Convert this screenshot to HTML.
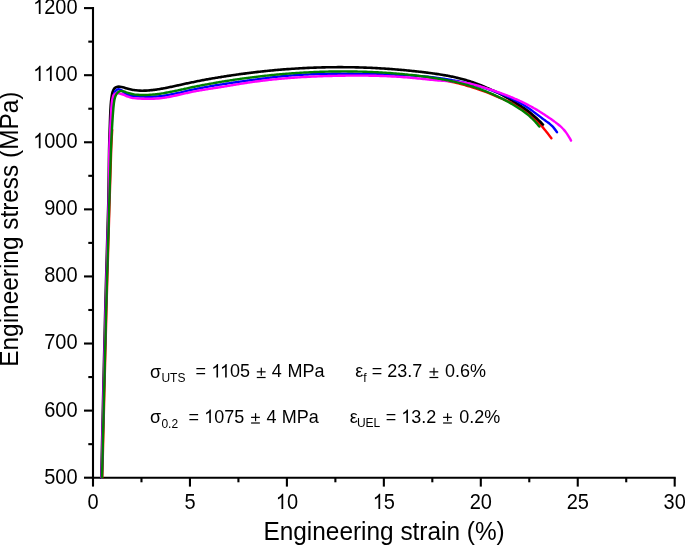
<!DOCTYPE html>
<html><head><meta charset="utf-8"><style>
html,body{margin:0;padding:0;background:#fff;}
body{width:685px;height:545px;overflow:hidden;}
svg{display:block;will-change:transform;}
text{font-family:"Liberation Sans",sans-serif;fill:#000;font-kerning:none;}
</style></head><body>
<svg width="685" height="545" viewBox="0 0 685 545">
<rect width="685" height="545" fill="#fff"/>
<g stroke="#000" stroke-width="2.1" stroke-linecap="butt">
<line x1="93" y1="7" x2="93" y2="478.75"/>
<line x1="91.95" y1="477.7" x2="675.75" y2="477.7"/>
<line x1="84" y1="477.70" x2="93" y2="477.70"/><line x1="84" y1="410.61" x2="93" y2="410.61"/><line x1="84" y1="343.53" x2="93" y2="343.53"/><line x1="84" y1="276.44" x2="93" y2="276.44"/><line x1="84" y1="209.36" x2="93" y2="209.36"/><line x1="84" y1="142.27" x2="93" y2="142.27"/><line x1="84" y1="75.19" x2="93" y2="75.19"/><line x1="84" y1="8.10" x2="93" y2="8.10"/><line x1="88.3" y1="444.16" x2="93" y2="444.16"/><line x1="88.3" y1="377.07" x2="93" y2="377.07"/><line x1="88.3" y1="309.99" x2="93" y2="309.99"/><line x1="88.3" y1="242.90" x2="93" y2="242.90"/><line x1="88.3" y1="175.81" x2="93" y2="175.81"/><line x1="88.3" y1="108.73" x2="93" y2="108.73"/><line x1="88.3" y1="41.64" x2="93" y2="41.64"/><line x1="93.00" y1="477.7" x2="93.00" y2="486.6"/><line x1="189.95" y1="477.7" x2="189.95" y2="486.6"/><line x1="286.90" y1="477.7" x2="286.90" y2="486.6"/><line x1="383.85" y1="477.7" x2="383.85" y2="486.6"/><line x1="480.80" y1="477.7" x2="480.80" y2="486.6"/><line x1="577.75" y1="477.7" x2="577.75" y2="486.6"/><line x1="674.70" y1="477.7" x2="674.70" y2="486.6"/><line x1="141.47" y1="477.7" x2="141.47" y2="482.3"/><line x1="238.43" y1="477.7" x2="238.43" y2="482.3"/><line x1="335.38" y1="477.7" x2="335.38" y2="482.3"/><line x1="432.32" y1="477.7" x2="432.32" y2="482.3"/><line x1="529.28" y1="477.7" x2="529.28" y2="482.3"/><line x1="626.23" y1="477.7" x2="626.23" y2="482.3"/>
</g>
<g fill="none" stroke-width="2.4" stroke-linecap="round" stroke-linejoin="round">
<path d="M102.30 477.40 C102.30 477.40 105.32 350.72 106.70 300.00 C107.73 261.92 108.81 227.61 109.65 200.00 C110.24 180.47 110.68 162.91 111.20 150.00 C111.53 141.83 112.20 130.00 112.20 130.00" stroke="#ff0000" stroke-width="2.4"/>
<path d="M427.00 76.86 C427.00 76.86 429.00 77.15 430.00 77.32 C431.00 77.48 432.00 77.67 433.00 77.86 C434.00 78.04 435.00 78.23 436.00 78.43 C437.00 78.62 438.00 78.82 439.00 79.03 C440.00 79.24 441.00 79.45 442.00 79.67 C443.00 79.88 444.00 80.11 445.00 80.34 C446.00 80.57 447.00 80.81 448.00 81.04 C449.00 81.28 450.00 81.52 451.00 81.76 C452.00 81.99 453.00 82.21 454.00 82.44 C455.00 82.68 456.00 82.92 457.00 83.16 C458.00 83.40 459.00 83.65 460.00 83.91 C461.00 84.16 462.00 84.42 463.00 84.68 C464.00 84.95 464.93 85.18 466.00 85.49 C467.24 85.84 468.25 86.15 470.00 86.70 C473.41 87.77 480.04 89.75 485.00 91.60 C490.04 93.48 495.01 95.77 500.00 97.90 C505.01 100.04 510.12 101.72 515.00 104.40 C520.14 107.23 525.63 111.06 530.00 114.60 C533.82 117.69 537.29 121.34 540.00 124.20 C542.01 126.32 543.26 127.87 545.00 130.00 C547.03 132.49 551.40 138.30 551.40 138.30" stroke="#ff0000" stroke-width="2.4"/>
<path d="M101.30 477.40 C101.30 477.40 104.16 350.71 105.50 300.00 C106.50 261.92 107.81 227.62 108.40 200.00 C108.82 180.48 108.82 162.91 109.10 150.00 C109.28 141.83 109.42 137.22 109.70 130.00 C110.03 121.45 110.28 108.97 111.00 102.00 C111.43 97.81 111.80 94.50 112.60 92.00 C113.12 90.38 113.60 89.07 114.50 88.20 C115.29 87.43 116.52 87.04 117.50 86.80 C118.35 86.59 119.08 86.62 120.00 86.70 C121.18 86.81 122.90 87.28 124.00 87.58 C124.79 87.80 125.33 88.05 126.00 88.26 C126.66 88.46 127.33 88.66 128.00 88.84 C128.66 89.02 129.33 89.18 130.00 89.33 C130.67 89.48 131.33 89.62 132.00 89.74 C132.67 89.87 133.33 89.98 134.00 90.07 C134.67 90.17 135.33 90.26 136.00 90.33 C136.67 90.40 137.33 90.46 138.00 90.51 C138.67 90.56 139.33 90.60 140.00 90.63 C140.67 90.66 141.33 90.67 142.00 90.68 C142.67 90.69 143.33 90.69 144.00 90.67 C144.67 90.66 145.33 90.64 146.00 90.61 C146.67 90.58 147.33 90.54 148.00 90.49 C148.67 90.45 149.33 90.39 150.00 90.33 C150.67 90.27 151.33 90.20 152.00 90.13 C152.67 90.05 153.33 89.97 154.00 89.88 C154.67 89.80 155.33 89.70 156.00 89.61 C156.67 89.51 157.33 89.41 158.00 89.30 C158.67 89.20 159.33 89.09 160.00 88.97 C160.67 88.86 161.33 88.75 162.00 88.63 C162.67 88.51 163.33 88.39 164.00 88.26 C164.67 88.14 165.33 88.01 166.00 87.88 C166.67 87.75 167.33 87.62 168.00 87.48 C168.67 87.35 169.33 87.21 170.00 87.08 C170.67 86.94 171.33 86.80 172.00 86.66 C172.67 86.52 173.33 86.38 174.00 86.23 C174.67 86.09 175.33 85.94 176.00 85.80 C176.67 85.65 177.33 85.51 178.00 85.36 C178.67 85.22 179.33 85.07 180.00 84.92 C180.67 84.77 181.33 84.63 182.00 84.48 C182.67 84.33 183.33 84.19 184.00 84.04 C184.67 83.89 185.33 83.75 186.00 83.60 C186.67 83.46 187.33 83.31 188.00 83.17 C188.67 83.02 189.33 82.88 190.00 82.74 C190.67 82.60 191.33 82.46 192.00 82.32 C192.67 82.18 193.33 82.04 194.00 81.91 C194.67 81.77 195.33 81.64 196.00 81.50 C196.67 81.37 197.33 81.24 198.00 81.10 C198.67 80.97 199.33 80.84 200.00 80.71 C200.67 80.58 201.33 80.46 202.00 80.33 C202.67 80.20 203.33 80.08 204.00 79.95 C204.67 79.83 205.33 79.71 206.00 79.58 C206.67 79.46 207.33 79.34 208.00 79.22 C208.67 79.10 209.33 78.98 210.00 78.86 C210.67 78.75 211.33 78.63 212.00 78.51 C212.67 78.40 213.33 78.28 214.00 78.17 C214.67 78.05 215.33 77.94 216.00 77.83 C216.67 77.72 217.33 77.60 218.00 77.49 C218.67 77.38 219.33 77.27 220.00 77.16 C220.67 77.06 221.33 76.95 222.00 76.84 C222.67 76.73 223.33 76.63 224.00 76.52 C224.67 76.42 225.33 76.31 226.00 76.21 C226.67 76.11 227.33 76.00 228.00 75.90 C228.67 75.80 229.33 75.70 230.00 75.60 C230.67 75.50 231.33 75.40 232.00 75.30 C232.67 75.20 233.33 75.10 234.00 75.01 C234.67 74.91 235.33 74.81 236.00 74.72 C236.67 74.62 237.33 74.53 238.00 74.44 C238.67 74.34 239.33 74.25 240.00 74.16 C240.67 74.07 241.33 73.98 242.00 73.89 C242.67 73.80 243.33 73.71 244.00 73.62 C244.67 73.53 245.33 73.44 246.00 73.36 C246.67 73.27 247.33 73.19 248.00 73.10 C248.67 73.02 249.33 72.93 250.00 72.85 C250.67 72.77 251.33 72.69 252.00 72.60 C252.67 72.52 253.33 72.44 254.00 72.36 C254.67 72.28 255.33 72.21 256.00 72.13 C256.67 72.05 257.33 71.97 258.00 71.90 C258.67 71.82 259.33 71.75 260.00 71.67 C260.67 71.60 261.33 71.53 262.00 71.45 C262.67 71.38 263.33 71.31 264.00 71.24 C264.67 71.17 265.33 71.10 266.00 71.03 C266.67 70.96 267.33 70.90 268.00 70.83 C268.67 70.76 269.33 70.70 270.00 70.63 C270.67 70.57 271.33 70.50 272.00 70.44 C272.67 70.37 273.33 70.31 274.00 70.25 C274.67 70.19 275.33 70.13 276.00 70.07 C276.67 70.01 277.33 69.95 278.00 69.89 C278.67 69.83 279.33 69.78 280.00 69.72 C280.67 69.67 281.33 69.61 282.00 69.56 C282.67 69.50 283.33 69.45 284.00 69.40 C284.67 69.34 285.33 69.29 286.00 69.24 C286.67 69.19 287.33 69.14 288.00 69.09 C288.67 69.04 289.33 68.99 290.00 68.95 C290.67 68.90 291.33 68.85 292.00 68.81 C292.67 68.76 293.33 68.72 294.00 68.68 C294.67 68.63 295.33 68.59 296.00 68.55 C296.67 68.51 297.33 68.47 298.00 68.43 C298.67 68.39 299.33 68.35 300.00 68.31 C300.67 68.27 301.33 68.24 302.00 68.20 C302.67 68.17 303.33 68.13 304.00 68.10 C304.67 68.06 305.33 68.03 306.00 68.00 C306.67 67.96 307.33 67.93 308.00 67.90 C308.67 67.87 309.33 67.84 310.00 67.81 C310.67 67.79 311.33 67.76 312.00 67.73 C312.67 67.70 313.33 67.68 314.00 67.65 C314.67 67.63 315.33 67.61 316.00 67.58 C316.67 67.56 317.33 67.54 318.00 67.52 C318.67 67.50 319.33 67.48 320.00 67.46 C320.67 67.44 321.33 67.42 322.00 67.40 C322.67 67.38 323.33 67.37 324.00 67.35 C324.67 67.34 325.33 67.32 326.00 67.31 C326.67 67.30 327.33 67.28 328.00 67.27 C328.67 67.26 329.33 67.25 330.00 67.24 C330.67 67.23 331.33 67.22 332.00 67.21 C332.67 67.21 333.33 67.20 334.00 67.19 C334.67 67.19 335.33 67.18 336.00 67.18 C336.67 67.17 337.33 67.17 338.00 67.17 C338.67 67.17 339.33 67.17 340.00 67.17 C340.67 67.17 341.33 67.17 342.00 67.17 C342.67 67.17 343.33 67.17 344.00 67.18 C344.67 67.18 345.33 67.19 346.00 67.19 C346.67 67.20 347.33 67.20 348.00 67.21 C348.67 67.22 349.33 67.23 350.00 67.24 C350.67 67.25 351.33 67.26 352.00 67.27 C352.67 67.28 353.33 67.29 354.00 67.31 C354.67 67.32 355.33 67.33 356.00 67.35 C356.67 67.36 357.33 67.38 358.00 67.40 C358.67 67.41 359.33 67.43 360.00 67.45 C360.67 67.47 361.33 67.49 362.00 67.51 C362.67 67.53 363.33 67.56 364.00 67.58 C364.67 67.60 365.33 67.63 366.00 67.65 C366.67 67.68 367.33 67.70 368.00 67.73 C368.67 67.76 369.33 67.79 370.00 67.82 C370.67 67.84 371.33 67.87 372.00 67.91 C372.67 67.94 373.33 67.97 374.00 68.00 C374.67 68.03 375.33 68.07 376.00 68.10 C376.67 68.14 377.33 68.17 378.00 68.21 C378.67 68.25 379.33 68.29 380.00 68.33 C380.67 68.36 381.33 68.40 382.00 68.44 C382.67 68.49 383.33 68.53 384.00 68.57 C384.67 68.61 385.33 68.66 386.00 68.70 C386.67 68.75 387.33 68.79 388.00 68.84 C388.67 68.89 389.33 68.93 390.00 68.98 C390.67 69.03 391.33 69.08 392.00 69.13 C392.67 69.18 393.33 69.23 394.00 69.28 C394.67 69.34 395.33 69.39 396.00 69.44 C396.67 69.50 397.33 69.55 398.00 69.61 C398.67 69.67 399.33 69.72 400.00 69.78 C400.67 69.84 401.33 69.90 402.00 69.96 C402.67 70.02 403.33 70.08 404.00 70.14 C404.67 70.20 405.33 70.26 406.00 70.33 C406.67 70.39 407.33 70.46 408.00 70.52 C408.67 70.59 409.33 70.65 410.00 70.72 C410.67 70.79 411.33 70.86 412.00 70.93 C412.67 70.99 413.33 71.06 414.00 71.14 C414.67 71.21 415.33 71.28 416.00 71.35 C416.67 71.42 417.33 71.50 418.00 71.57 C418.67 71.65 419.33 71.72 420.00 71.80 C420.67 71.88 421.33 71.95 422.00 72.03 C422.67 72.11 423.33 72.19 424.00 72.27 C424.67 72.35 425.33 72.43 426.00 72.51 C426.67 72.59 427.33 72.68 428.00 72.76 C428.67 72.84 429.33 72.93 430.00 73.02 C430.67 73.10 431.33 73.19 432.00 73.28 C432.67 73.37 433.33 73.46 434.00 73.55 C434.67 73.65 435.33 73.74 436.00 73.84 C436.67 73.93 437.33 74.03 438.00 74.13 C438.67 74.23 439.33 74.33 440.00 74.44 C440.67 74.54 441.33 74.65 442.00 74.76 C442.67 74.87 443.33 74.98 444.00 75.10 C444.67 75.21 445.33 75.33 446.00 75.45 C446.67 75.57 447.33 75.69 448.00 75.82 C448.67 75.94 449.33 76.07 450.00 76.20 C450.67 76.34 451.33 76.47 452.00 76.61 C452.67 76.75 453.33 76.89 454.00 77.04 C454.67 77.18 455.33 77.33 456.00 77.49 C456.67 77.64 457.33 77.80 458.00 77.96 C458.67 78.12 459.33 78.28 460.00 78.45 C460.67 78.62 461.33 78.79 462.00 78.97 C462.67 79.15 463.33 79.33 464.00 79.51 C464.67 79.70 465.33 79.89 466.00 80.08 C466.67 80.28 467.33 80.48 468.00 80.68 C468.67 80.89 469.33 81.10 470.00 81.31 C470.67 81.53 471.33 81.75 472.00 81.97 C472.67 82.20 473.33 82.43 474.00 82.66 C474.67 82.89 475.33 83.13 476.00 83.38 C476.67 83.62 477.33 83.87 478.00 84.12 C478.67 84.37 479.33 84.63 480.00 84.89 C480.67 85.16 481.33 85.42 482.00 85.69 C482.67 85.96 483.33 86.24 484.00 86.52 C484.67 86.80 485.33 87.08 486.00 87.37 C486.67 87.65 487.33 87.94 488.00 88.24 C488.67 88.53 489.33 88.83 490.00 89.14 C490.67 89.44 491.33 89.75 492.00 90.06 C492.67 90.37 493.33 90.68 494.00 91.00 C494.67 91.31 495.33 91.64 496.00 91.96 C496.67 92.28 497.33 92.61 498.00 92.94 C498.67 93.27 499.33 93.61 500.00 93.95 C500.67 94.28 501.33 94.62 502.00 94.97 C502.67 95.31 503.33 95.66 504.00 96.01 C504.67 96.36 505.33 96.72 506.00 97.08 C506.67 97.44 507.33 97.80 508.00 98.17 C508.67 98.54 509.33 98.91 510.00 99.29 C510.67 99.66 511.33 100.05 512.00 100.43 C512.67 100.82 513.33 101.22 514.00 101.61 C514.67 102.01 515.33 102.42 516.00 102.83 C516.67 103.24 517.33 103.65 518.00 104.08 C518.67 104.50 519.34 104.93 520.00 105.37 C520.67 105.81 521.34 106.25 522.00 106.70 C522.67 107.16 523.34 107.62 524.00 108.09 C524.67 108.56 525.34 109.04 526.00 109.53 C526.67 110.02 527.34 110.52 528.00 111.03 C528.67 111.54 529.34 112.06 530.00 112.59 C530.67 113.13 531.34 113.67 532.00 114.22 C532.67 114.78 533.34 115.35 534.00 115.93 C534.67 116.51 535.34 117.10 536.00 117.70 C536.67 118.31 537.34 118.93 538.00 119.57 C538.67 120.20 539.34 120.85 540.00 121.51 C540.67 122.18 541.45 122.98 542.00 123.55 C542.39 123.95 543.00 124.60 543.00 124.60" stroke="#000000" stroke-width="2.6"/>
<path d="M101.80 477.40 C101.80 477.40 104.75 350.72 106.10 300.00 C107.11 261.92 108.41 227.62 109.00 200.00 C109.42 180.48 109.35 162.91 109.70 150.00 C109.92 141.83 110.08 137.22 110.50 130.00 C110.99 121.45 111.77 108.35 112.60 102.00 C113.03 98.69 113.34 96.56 114.00 94.50 C114.49 92.95 114.95 91.48 115.80 90.60 C116.50 89.88 117.45 89.35 118.40 89.30 C119.49 89.24 121.03 90.00 122.00 90.62 C122.83 91.14 123.31 92.00 124.00 92.58 C124.65 93.12 125.32 93.59 126.00 93.99 C126.65 94.37 127.32 94.68 128.00 94.94 C128.66 95.20 129.33 95.39 130.00 95.55 C130.66 95.71 131.33 95.81 132.00 95.91 C132.66 96.00 133.33 96.06 134.00 96.12 C134.67 96.19 135.33 96.24 136.00 96.28 C136.67 96.33 137.33 96.37 138.00 96.41 C138.67 96.45 139.33 96.48 140.00 96.51 C140.67 96.55 141.33 96.57 142.00 96.60 C142.67 96.63 143.33 96.65 144.00 96.67 C144.67 96.68 145.33 96.70 146.00 96.71 C146.67 96.72 147.33 96.73 148.00 96.73 C148.67 96.73 149.33 96.73 150.00 96.72 C150.67 96.72 151.33 96.71 152.00 96.69 C152.67 96.67 153.33 96.65 154.00 96.62 C154.67 96.59 155.33 96.55 156.00 96.51 C156.67 96.47 157.33 96.42 158.00 96.37 C158.67 96.32 159.33 96.25 160.00 96.19 C160.67 96.12 161.33 96.04 162.00 95.96 C162.67 95.88 163.33 95.79 164.00 95.69 C164.67 95.60 165.33 95.49 166.00 95.39 C166.67 95.28 167.33 95.17 168.00 95.05 C168.67 94.93 169.33 94.81 170.00 94.68 C170.67 94.56 171.33 94.43 172.00 94.29 C172.67 94.16 173.33 94.02 174.00 93.88 C174.67 93.74 175.33 93.60 176.00 93.45 C176.67 93.30 177.33 93.16 178.00 93.01 C178.67 92.86 179.33 92.70 180.00 92.55 C180.67 92.40 181.33 92.24 182.00 92.09 C182.67 91.93 183.33 91.78 184.00 91.62 C184.67 91.47 185.33 91.31 186.00 91.16 C186.67 91.00 187.33 90.85 188.00 90.70 C188.67 90.54 189.33 90.39 190.00 90.24 C190.67 90.10 191.33 89.95 192.00 89.80 C192.67 89.66 193.33 89.51 194.00 89.37 C194.67 89.23 195.33 89.09 196.00 88.95 C196.67 88.82 197.33 88.68 198.00 88.54 C198.67 88.41 199.33 88.28 200.00 88.15 C200.67 88.01 201.33 87.89 202.00 87.76 C202.67 87.63 203.33 87.50 204.00 87.38 C204.67 87.25 205.33 87.13 206.00 87.01 C206.67 86.88 207.33 86.76 208.00 86.64 C208.67 86.53 209.33 86.41 210.00 86.29 C210.67 86.17 211.33 86.06 212.00 85.94 C212.67 85.83 213.33 85.72 214.00 85.60 C214.67 85.49 215.33 85.38 216.00 85.27 C216.67 85.16 217.33 85.05 218.00 84.95 C218.67 84.84 219.33 84.73 220.00 84.63 C220.67 84.52 221.33 84.42 222.00 84.31 C222.67 84.21 223.33 84.11 224.00 84.00 C224.67 83.90 225.33 83.80 226.00 83.70 C226.67 83.60 227.33 83.50 228.00 83.40 C228.67 83.30 229.33 83.20 230.00 83.11 C230.67 83.01 231.33 82.91 232.00 82.81 C232.67 82.72 233.33 82.62 234.00 82.53 C234.67 82.43 235.33 82.33 236.00 82.24 C236.67 82.14 237.33 82.05 238.00 81.96 C238.67 81.86 239.33 81.77 240.00 81.68 C240.67 81.58 241.33 81.49 242.00 81.40 C242.67 81.30 243.33 81.21 244.00 81.12 C244.67 81.03 245.33 80.93 246.00 80.84 C246.67 80.75 247.33 80.66 248.00 80.56 C248.67 80.47 249.33 80.38 250.00 80.29 C250.67 80.19 251.33 80.10 252.00 80.01 C252.67 79.92 253.33 79.83 254.00 79.73 C254.67 79.64 255.33 79.55 256.00 79.46 C256.67 79.37 257.33 79.27 258.00 79.18 C258.67 79.09 259.33 79.00 260.00 78.91 C260.67 78.82 261.33 78.73 262.00 78.64 C262.67 78.55 263.33 78.47 264.00 78.38 C264.67 78.29 265.33 78.20 266.00 78.12 C266.67 78.03 267.33 77.95 268.00 77.86 C268.67 77.78 269.33 77.69 270.00 77.61 C270.67 77.53 271.33 77.45 272.00 77.37 C272.67 77.29 273.33 77.21 274.00 77.13 C274.67 77.05 275.33 76.98 276.00 76.90 C276.67 76.83 277.33 76.75 278.00 76.68 C278.67 76.61 279.33 76.54 280.00 76.47 C280.67 76.40 281.33 76.33 282.00 76.27 C282.67 76.20 283.33 76.14 284.00 76.08 C284.67 76.01 285.33 75.95 286.00 75.89 C286.67 75.83 287.33 75.78 288.00 75.72 C288.67 75.66 289.33 75.61 290.00 75.55 C290.67 75.50 291.33 75.45 292.00 75.40 C292.67 75.35 293.33 75.30 294.00 75.25 C294.67 75.20 295.33 75.16 296.00 75.11 C296.67 75.06 297.33 75.02 298.00 74.98 C298.67 74.94 299.33 74.90 300.00 74.86 C300.67 74.82 301.33 74.78 302.00 74.74 C302.67 74.70 303.33 74.67 304.00 74.63 C304.67 74.60 305.33 74.56 306.00 74.53 C306.67 74.50 307.33 74.47 308.00 74.44 C308.67 74.41 309.33 74.38 310.00 74.35 C310.67 74.32 311.33 74.30 312.00 74.27 C312.67 74.25 313.33 74.22 314.00 74.20 C314.67 74.18 315.33 74.15 316.00 74.13 C316.67 74.11 317.33 74.09 318.00 74.07 C318.67 74.05 319.33 74.03 320.00 74.02 C320.67 74.00 321.33 73.98 322.00 73.97 C322.67 73.95 323.33 73.94 324.00 73.93 C324.67 73.91 325.33 73.90 326.00 73.89 C326.67 73.88 327.33 73.87 328.00 73.86 C328.67 73.85 329.33 73.84 330.00 73.83 C330.67 73.82 331.33 73.81 332.00 73.81 C332.67 73.80 333.33 73.80 334.00 73.79 C334.67 73.79 335.33 73.78 336.00 73.78 C336.67 73.77 337.33 73.77 338.00 73.77 C338.67 73.77 339.33 73.77 340.00 73.76 C340.67 73.76 341.33 73.76 342.00 73.76 C342.67 73.76 343.33 73.77 344.00 73.77 C344.67 73.77 345.33 73.77 346.00 73.77 C346.67 73.78 347.33 73.78 348.00 73.78 C348.67 73.79 349.33 73.79 350.00 73.80 C350.67 73.80 351.33 73.81 352.00 73.81 C352.67 73.82 353.33 73.82 354.00 73.83 C354.67 73.84 355.33 73.84 356.00 73.85 C356.67 73.86 357.33 73.87 358.00 73.88 C358.67 73.88 359.33 73.89 360.00 73.90 C360.67 73.91 361.33 73.92 362.00 73.93 C362.67 73.94 363.33 73.95 364.00 73.96 C364.67 73.97 365.33 73.98 366.00 73.99 C366.67 74.00 367.33 74.01 368.00 74.02 C368.67 74.03 369.33 74.05 370.00 74.06 C370.67 74.07 371.33 74.08 372.00 74.09 C372.67 74.10 373.33 74.12 374.00 74.13 C374.67 74.14 375.33 74.15 376.00 74.17 C376.67 74.18 377.33 74.19 378.00 74.21 C378.67 74.22 379.33 74.23 380.00 74.25 C380.67 74.26 381.33 74.28 382.00 74.29 C382.67 74.31 383.33 74.32 384.00 74.34 C384.67 74.36 385.33 74.37 386.00 74.39 C386.67 74.41 387.33 74.43 388.00 74.45 C388.67 74.47 389.33 74.48 390.00 74.50 C390.67 74.53 391.33 74.55 392.00 74.57 C392.67 74.59 393.33 74.61 394.00 74.64 C394.67 74.66 395.33 74.68 396.00 74.71 C396.67 74.73 397.33 74.76 398.00 74.79 C398.67 74.81 399.33 74.84 400.00 74.87 C400.67 74.90 401.33 74.93 402.00 74.96 C402.67 74.99 403.33 75.02 404.00 75.05 C404.67 75.09 405.33 75.12 406.00 75.16 C406.67 75.19 407.33 75.23 408.00 75.27 C408.67 75.30 409.33 75.34 410.00 75.38 C410.67 75.42 411.33 75.46 412.00 75.51 C412.67 75.55 413.33 75.59 414.00 75.64 C414.67 75.68 415.33 75.73 416.00 75.78 C416.67 75.83 417.33 75.88 418.00 75.93 C418.67 75.98 419.33 76.03 420.00 76.09 C420.67 76.14 421.33 76.20 422.00 76.25 C422.67 76.31 423.33 76.37 424.00 76.43 C424.67 76.49 425.33 76.55 426.00 76.62 C426.67 76.68 427.33 76.74 428.00 76.81 C428.67 76.88 429.33 76.95 430.00 77.02 C430.67 77.09 431.33 77.16 432.00 77.24 C432.67 77.31 433.33 77.39 434.00 77.47 C434.67 77.54 435.33 77.62 436.00 77.71 C436.67 77.79 437.33 77.87 438.00 77.96 C438.67 78.05 439.33 78.13 440.00 78.22 C440.67 78.31 441.33 78.41 442.00 78.50 C442.67 78.60 443.33 78.69 444.00 78.79 C444.67 78.89 445.33 78.99 446.00 79.09 C446.67 79.20 447.33 79.30 448.00 79.41 C448.67 79.52 449.33 79.63 450.00 79.74 C450.67 79.85 451.33 79.97 452.00 80.09 C452.67 80.20 453.33 80.32 454.00 80.45 C454.67 80.57 455.33 80.69 456.00 80.82 C456.67 80.95 457.33 81.08 458.00 81.21 C458.67 81.34 459.33 81.48 460.00 81.61 C460.67 81.75 461.33 81.89 462.00 82.03 C462.67 82.18 463.33 82.32 464.00 82.47 C464.67 82.62 465.33 82.77 466.00 82.92 C466.67 83.08 467.33 83.23 468.00 83.39 C468.67 83.55 469.33 83.72 470.00 83.88 C470.67 84.05 471.33 84.21 472.00 84.38 C472.67 84.56 473.33 84.73 474.00 84.91 C474.67 85.08 475.33 85.26 476.00 85.45 C476.67 85.63 477.33 85.82 478.00 86.01 C478.67 86.19 479.33 86.39 480.00 86.58 C480.67 86.78 481.33 86.98 482.00 87.18 C482.67 87.38 483.33 87.59 484.00 87.80 C484.67 88.00 485.33 88.22 486.00 88.43 C486.67 88.65 487.33 88.86 488.00 89.09 C488.67 89.31 489.33 89.53 490.00 89.76 C490.67 89.99 491.33 90.22 492.00 90.46 C492.67 90.70 493.33 90.93 494.00 91.18 C494.67 91.42 495.33 91.67 496.00 91.92 C496.67 92.17 497.33 92.42 498.00 92.68 C498.67 92.94 499.33 93.20 500.00 93.46 C500.67 93.73 501.33 93.99 502.00 94.27 C502.67 94.54 503.33 94.82 504.00 95.10 C504.67 95.38 505.33 95.66 506.00 95.95 C506.67 96.25 507.33 96.54 508.00 96.84 C508.67 97.14 509.33 97.45 510.00 97.76 C510.67 98.07 511.33 98.39 512.00 98.71 C512.67 99.04 513.33 99.37 514.00 99.70 C514.67 100.04 515.33 100.38 516.00 100.73 C516.67 101.08 517.33 101.44 518.00 101.80 C518.67 102.17 519.33 102.54 520.00 102.92 C520.67 103.30 521.34 103.68 522.00 104.08 C522.67 104.47 523.34 104.88 524.00 105.29 C524.67 105.70 525.34 106.12 526.00 106.55 C526.67 106.98 527.34 107.42 528.00 107.86 C528.67 108.31 529.34 108.77 530.00 109.23 C530.67 109.70 531.34 110.17 532.00 110.65 C532.67 111.14 533.33 111.63 534.00 112.12 C534.67 112.62 535.33 113.12 536.00 113.62 C536.67 114.13 537.33 114.63 538.00 115.14 C538.67 115.65 539.33 116.15 540.00 116.66 C540.67 117.16 541.33 117.67 542.00 118.17 C542.67 118.67 543.33 119.16 544.00 119.65 C544.67 120.14 545.33 120.62 546.00 121.10 C546.67 121.59 547.34 122.06 548.00 122.56 C548.67 123.07 549.34 123.59 550.00 124.14 C550.68 124.72 551.35 125.31 552.00 125.95 C552.68 126.62 553.35 127.34 554.00 128.10 C554.69 128.91 555.46 129.94 556.00 130.70 C556.40 131.26 557.00 132.20 557.00 132.20" stroke="#0000ff" stroke-width="2.4"/>
<path d="M101.60 477.40 C101.60 477.40 104.55 350.72 105.90 300.00 C106.91 261.92 108.26 227.62 108.80 200.00 C109.18 180.48 108.95 162.91 109.30 150.00 C109.52 141.83 109.79 137.34 110.20 130.00 C110.70 121.01 111.16 105.76 112.20 100.00 C112.63 97.60 112.85 96.24 113.70 95.00 C114.40 93.98 115.45 93.02 116.50 92.80 C117.55 92.58 118.80 93.38 120.00 93.70 C121.29 94.05 122.92 94.37 124.00 94.81 C124.80 95.14 125.33 95.57 126.00 95.90 C126.66 96.21 127.33 96.49 128.00 96.74 C128.66 96.98 129.33 97.19 130.00 97.38 C130.66 97.56 131.33 97.71 132.00 97.84 C132.66 97.97 133.33 98.07 134.00 98.16 C134.67 98.25 135.33 98.32 136.00 98.38 C136.67 98.43 137.33 98.47 138.00 98.51 C138.67 98.55 139.33 98.58 140.00 98.61 C140.67 98.64 141.33 98.66 142.00 98.68 C142.67 98.71 143.33 98.73 144.00 98.75 C144.67 98.76 145.33 98.78 146.00 98.79 C146.67 98.80 147.33 98.81 148.00 98.81 C148.67 98.82 149.33 98.82 150.00 98.81 C150.67 98.81 151.33 98.80 152.00 98.78 C152.67 98.76 153.33 98.74 154.00 98.72 C154.67 98.69 155.33 98.66 156.00 98.61 C156.67 98.57 157.33 98.53 158.00 98.47 C158.67 98.42 159.33 98.36 160.00 98.29 C160.67 98.22 161.33 98.14 162.00 98.06 C162.67 97.97 163.33 97.88 164.00 97.78 C164.67 97.68 165.33 97.58 166.00 97.47 C166.67 97.36 167.33 97.24 168.00 97.12 C168.67 97.00 169.33 96.87 170.00 96.74 C170.67 96.61 171.33 96.47 172.00 96.34 C172.67 96.20 173.33 96.06 174.00 95.91 C174.67 95.77 175.33 95.62 176.00 95.47 C176.67 95.32 177.33 95.17 178.00 95.02 C178.67 94.87 179.33 94.71 180.00 94.56 C180.67 94.40 181.33 94.25 182.00 94.09 C182.67 93.94 183.33 93.78 184.00 93.63 C184.67 93.48 185.33 93.32 186.00 93.17 C186.67 93.02 187.33 92.87 188.00 92.73 C188.67 92.58 189.33 92.44 190.00 92.30 C190.67 92.16 191.33 92.02 192.00 91.88 C192.67 91.75 193.33 91.62 194.00 91.49 C194.67 91.36 195.33 91.23 196.00 91.11 C196.67 90.99 197.33 90.86 198.00 90.74 C198.67 90.62 199.33 90.51 200.00 90.39 C200.67 90.28 201.33 90.16 202.00 90.05 C202.67 89.94 203.33 89.83 204.00 89.72 C204.67 89.61 205.33 89.50 206.00 89.39 C206.67 89.29 207.33 89.18 208.00 89.08 C208.67 88.97 209.33 88.87 210.00 88.76 C210.67 88.66 211.33 88.56 212.00 88.45 C212.67 88.35 213.33 88.25 214.00 88.14 C214.67 88.04 215.33 87.94 216.00 87.83 C216.67 87.73 217.33 87.63 218.00 87.52 C218.67 87.42 219.33 87.31 220.00 87.21 C220.67 87.10 221.33 87.00 222.00 86.89 C222.67 86.78 223.33 86.67 224.00 86.56 C224.67 86.45 225.33 86.35 226.00 86.24 C226.67 86.13 227.33 86.02 228.00 85.90 C228.67 85.79 229.33 85.68 230.00 85.57 C230.67 85.46 231.33 85.35 232.00 85.24 C232.67 85.13 233.33 85.02 234.00 84.91 C234.67 84.80 235.33 84.69 236.00 84.58 C236.67 84.47 237.33 84.36 238.00 84.25 C238.67 84.14 239.33 84.03 240.00 83.92 C240.67 83.81 241.33 83.70 242.00 83.60 C242.67 83.49 243.33 83.38 244.00 83.28 C244.67 83.17 245.33 83.07 246.00 82.96 C246.67 82.86 247.33 82.76 248.00 82.66 C248.67 82.56 249.33 82.46 250.00 82.36 C250.67 82.26 251.33 82.16 252.00 82.07 C252.67 81.97 253.33 81.88 254.00 81.79 C254.67 81.69 255.33 81.60 256.00 81.51 C256.67 81.42 257.33 81.33 258.00 81.25 C258.67 81.16 259.33 81.07 260.00 80.99 C260.67 80.90 261.33 80.82 262.00 80.74 C262.67 80.65 263.33 80.57 264.00 80.49 C264.67 80.41 265.33 80.33 266.00 80.26 C266.67 80.18 267.33 80.10 268.00 80.03 C268.67 79.95 269.33 79.88 270.00 79.81 C270.67 79.73 271.33 79.66 272.00 79.59 C272.67 79.52 273.33 79.45 274.00 79.39 C274.67 79.32 275.33 79.25 276.00 79.19 C276.67 79.12 277.33 79.06 278.00 78.99 C278.67 78.93 279.33 78.87 280.00 78.81 C280.67 78.75 281.33 78.69 282.00 78.63 C282.67 78.57 283.33 78.51 284.00 78.45 C284.67 78.40 285.33 78.34 286.00 78.29 C286.67 78.23 287.33 78.18 288.00 78.12 C288.67 78.07 289.33 78.02 290.00 77.97 C290.67 77.92 291.33 77.87 292.00 77.82 C292.67 77.77 293.33 77.73 294.00 77.68 C294.67 77.63 295.33 77.59 296.00 77.54 C296.67 77.50 297.33 77.45 298.00 77.41 C298.67 77.37 299.33 77.33 300.00 77.29 C300.67 77.24 301.33 77.20 302.00 77.16 C302.67 77.13 303.33 77.09 304.00 77.05 C304.67 77.01 305.33 76.98 306.00 76.94 C306.67 76.90 307.33 76.87 308.00 76.84 C308.67 76.80 309.33 76.77 310.00 76.74 C310.67 76.70 311.33 76.67 312.00 76.64 C312.67 76.61 313.33 76.58 314.00 76.55 C314.67 76.52 315.33 76.49 316.00 76.47 C316.67 76.44 317.33 76.41 318.00 76.39 C318.67 76.36 319.33 76.33 320.00 76.31 C320.67 76.28 321.33 76.26 322.00 76.24 C322.67 76.21 323.33 76.19 324.00 76.17 C324.67 76.15 325.33 76.13 326.00 76.11 C326.67 76.09 327.33 76.07 328.00 76.05 C328.67 76.03 329.33 76.01 330.00 75.99 C330.67 75.97 331.33 75.96 332.00 75.94 C332.67 75.92 333.33 75.91 334.00 75.89 C334.67 75.87 335.33 75.86 336.00 75.85 C336.67 75.83 337.33 75.82 338.00 75.80 C338.67 75.79 339.33 75.78 340.00 75.77 C340.67 75.75 341.33 75.74 342.00 75.73 C342.67 75.72 343.33 75.71 344.00 75.70 C344.67 75.69 345.33 75.68 346.00 75.67 C346.67 75.66 347.33 75.66 348.00 75.65 C348.67 75.64 349.33 75.64 350.00 75.63 C350.67 75.63 351.33 75.62 352.00 75.62 C352.67 75.61 353.33 75.61 354.00 75.61 C354.67 75.60 355.33 75.60 356.00 75.60 C356.67 75.60 357.33 75.60 358.00 75.60 C358.67 75.60 359.33 75.60 360.00 75.60 C360.67 75.61 361.33 75.61 362.00 75.61 C362.67 75.62 363.33 75.62 364.00 75.63 C364.67 75.63 365.33 75.64 366.00 75.64 C366.67 75.65 367.33 75.66 368.00 75.67 C368.67 75.68 369.33 75.69 370.00 75.70 C370.67 75.71 371.33 75.72 372.00 75.73 C372.67 75.75 373.33 75.76 374.00 75.78 C374.67 75.79 375.33 75.81 376.00 75.82 C376.67 75.84 377.33 75.86 378.00 75.88 C378.67 75.90 379.33 75.92 380.00 75.94 C380.67 75.96 381.33 75.98 382.00 76.00 C382.67 76.03 383.33 76.05 384.00 76.08 C384.67 76.10 385.33 76.13 386.00 76.16 C386.67 76.18 387.33 76.21 388.00 76.24 C388.67 76.27 389.33 76.30 390.00 76.33 C390.67 76.37 391.33 76.40 392.00 76.43 C392.67 76.47 393.33 76.50 394.00 76.54 C394.67 76.58 395.33 76.62 396.00 76.66 C396.67 76.70 397.33 76.74 398.00 76.78 C398.67 76.82 399.33 76.86 400.00 76.91 C400.67 76.95 401.33 77.00 402.00 77.05 C402.67 77.09 403.33 77.14 404.00 77.19 C404.67 77.24 405.33 77.29 406.00 77.34 C406.67 77.40 407.33 77.45 408.00 77.51 C408.67 77.56 409.33 77.62 410.00 77.68 C410.67 77.73 411.33 77.79 412.00 77.86 C412.67 77.92 413.33 77.98 414.00 78.04 C414.67 78.10 415.33 78.17 416.00 78.23 C416.67 78.30 417.33 78.37 418.00 78.43 C418.67 78.50 419.33 78.57 420.00 78.64 C420.67 78.70 421.33 78.77 422.00 78.84 C422.67 78.91 423.33 78.98 424.00 79.05 C424.67 79.12 425.33 79.19 426.00 79.26 C426.67 79.34 427.33 79.41 428.00 79.48 C428.67 79.55 429.33 79.62 430.00 79.69 C430.67 79.76 431.33 79.83 432.00 79.89 C432.67 79.96 433.33 80.03 434.00 80.09 C434.67 80.16 435.33 80.22 436.00 80.28 C436.67 80.34 437.33 80.40 438.00 80.46 C438.67 80.52 439.33 80.57 440.00 80.63 C440.67 80.68 441.33 80.73 442.00 80.77 C442.67 80.82 443.33 80.87 444.00 80.91 C444.67 80.96 445.33 81.00 446.00 81.04 C446.67 81.08 447.33 81.13 448.00 81.17 C448.67 81.21 449.33 81.25 450.00 81.30 C450.67 81.34 451.33 81.38 452.00 81.43 C452.67 81.48 453.33 81.52 454.00 81.58 C454.67 81.63 455.33 81.68 456.00 81.74 C456.67 81.79 457.33 81.85 458.00 81.92 C458.67 81.98 459.33 82.05 460.00 82.12 C460.67 82.19 461.33 82.27 462.00 82.35 C462.67 82.44 463.33 82.52 464.00 82.62 C464.67 82.71 465.33 82.81 466.00 82.92 C466.67 83.03 467.33 83.15 468.00 83.27 C468.67 83.39 469.33 83.52 470.00 83.66 C470.67 83.80 471.33 83.95 472.00 84.10 C472.67 84.26 473.33 84.42 474.00 84.59 C474.67 84.76 475.33 84.94 476.00 85.12 C476.67 85.30 477.33 85.49 478.00 85.68 C478.67 85.87 479.33 86.07 480.00 86.27 C480.67 86.47 481.33 86.67 482.00 86.88 C482.67 87.08 483.33 87.29 484.00 87.50 C484.67 87.71 485.33 87.92 486.00 88.14 C486.67 88.35 487.33 88.56 488.00 88.78 C488.67 89.00 489.33 89.21 490.00 89.43 C490.67 89.65 491.33 89.87 492.00 90.09 C492.67 90.31 493.33 90.54 494.00 90.76 C494.67 90.99 495.33 91.22 496.00 91.45 C496.67 91.68 497.33 91.91 498.00 92.14 C498.67 92.38 499.33 92.61 500.00 92.85 C500.67 93.09 501.33 93.33 502.00 93.58 C502.67 93.82 503.33 94.07 504.00 94.32 C504.67 94.57 505.33 94.82 506.00 95.08 C506.67 95.34 507.33 95.60 508.00 95.86 C508.67 96.12 509.33 96.39 510.00 96.66 C510.67 96.93 511.33 97.20 512.00 97.48 C512.67 97.76 513.33 98.04 514.00 98.32 C514.67 98.61 515.33 98.89 516.00 99.19 C516.67 99.48 517.33 99.78 518.00 100.08 C518.67 100.38 519.33 100.68 520.00 100.99 C520.67 101.30 521.33 101.62 522.00 101.94 C522.67 102.26 523.33 102.58 524.00 102.91 C524.67 103.24 525.33 103.57 526.00 103.91 C526.67 104.25 527.33 104.59 528.00 104.94 C528.67 105.29 529.33 105.65 530.00 106.00 C530.67 106.37 531.33 106.73 532.00 107.10 C532.67 107.47 533.33 107.85 534.00 108.23 C534.67 108.61 535.33 109.00 536.00 109.39 C536.67 109.78 537.33 110.18 538.00 110.58 C538.67 110.98 539.33 111.39 540.00 111.80 C540.67 112.22 541.33 112.64 542.00 113.06 C542.67 113.48 543.33 113.91 544.00 114.34 C544.67 114.78 545.33 115.22 546.00 115.66 C546.67 116.10 547.33 116.55 548.00 117.01 C548.67 117.46 549.33 117.92 550.00 118.38 C550.67 118.85 551.33 119.32 552.00 119.79 C552.67 120.26 553.33 120.74 554.00 121.22 C554.67 121.71 555.34 122.19 556.00 122.69 C556.67 123.19 557.34 123.69 558.00 124.22 C558.67 124.76 559.34 125.30 560.00 125.88 C560.68 126.48 561.34 127.10 562.00 127.75 C562.68 128.43 563.35 129.14 564.00 129.90 C564.68 130.69 565.35 131.52 566.00 132.39 C566.68 133.31 567.35 134.28 568.00 135.30 C568.69 136.37 569.46 137.72 570.00 138.69 C570.40 139.41 571.00 140.60 571.00 140.60" stroke="#ff00ff" stroke-width="2.4"/>
<path d="M102.00 477.40 C102.00 477.40 105.02 350.72 106.40 300.00 C107.43 261.92 108.51 227.61 109.35 200.00 C109.94 180.47 110.38 162.91 110.90 150.00 C111.23 141.83 111.41 137.34 111.90 130.00 C112.50 121.01 113.16 106.03 114.40 100.00 C114.95 97.31 115.29 95.83 116.30 94.30 C117.20 92.93 118.56 91.55 119.90 91.10 C121.14 90.68 122.89 91.17 124.00 91.44 C124.80 91.63 125.33 92.00 126.00 92.25 C126.66 92.50 127.33 92.73 128.00 92.94 C128.66 93.14 129.33 93.33 130.00 93.50 C130.66 93.67 131.33 93.83 132.00 93.96 C132.67 94.10 133.33 94.22 134.00 94.33 C134.67 94.43 135.33 94.52 136.00 94.60 C136.67 94.68 137.33 94.74 138.00 94.80 C138.67 94.85 139.33 94.89 140.00 94.93 C140.67 94.96 141.33 94.98 142.00 95.00 C142.67 95.01 143.33 95.02 144.00 95.02 C144.67 95.02 145.33 95.01 146.00 94.99 C146.67 94.97 147.33 94.95 148.00 94.91 C148.67 94.88 149.33 94.84 150.00 94.80 C150.67 94.76 151.33 94.71 152.00 94.65 C152.67 94.59 153.33 94.53 154.00 94.46 C154.67 94.40 155.33 94.32 156.00 94.24 C156.67 94.17 157.33 94.08 158.00 93.99 C158.67 93.91 159.33 93.81 160.00 93.72 C160.67 93.62 161.33 93.52 162.00 93.41 C162.67 93.31 163.33 93.20 164.00 93.08 C164.67 92.97 165.33 92.85 166.00 92.73 C166.67 92.61 167.33 92.49 168.00 92.37 C168.67 92.24 169.33 92.11 170.00 91.98 C170.67 91.85 171.33 91.71 172.00 91.58 C172.67 91.44 173.33 91.30 174.00 91.17 C174.67 91.03 175.33 90.88 176.00 90.74 C176.67 90.60 177.33 90.46 178.00 90.31 C178.67 90.17 179.33 90.02 180.00 89.87 C180.67 89.73 181.33 89.58 182.00 89.43 C182.67 89.29 183.33 89.14 184.00 88.99 C184.67 88.84 185.33 88.70 186.00 88.55 C186.67 88.40 187.33 88.26 188.00 88.11 C188.67 87.97 189.33 87.82 190.00 87.68 C190.67 87.54 191.33 87.40 192.00 87.25 C192.67 87.11 193.33 86.98 194.00 86.84 C194.67 86.70 195.33 86.56 196.00 86.43 C196.67 86.29 197.33 86.16 198.00 86.03 C198.67 85.89 199.33 85.76 200.00 85.63 C200.67 85.50 201.33 85.37 202.00 85.24 C202.67 85.11 203.33 84.99 204.00 84.86 C204.67 84.73 205.33 84.61 206.00 84.48 C206.67 84.36 207.33 84.24 208.00 84.11 C208.67 83.99 209.33 83.87 210.00 83.75 C210.67 83.63 211.33 83.51 212.00 83.39 C212.67 83.28 213.33 83.16 214.00 83.04 C214.67 82.93 215.33 82.81 216.00 82.70 C216.67 82.58 217.33 82.47 218.00 82.35 C218.67 82.24 219.33 82.13 220.00 82.02 C220.67 81.91 221.33 81.80 222.00 81.69 C222.67 81.58 223.33 81.47 224.00 81.36 C224.67 81.25 225.33 81.15 226.00 81.04 C226.67 80.93 227.33 80.83 228.00 80.72 C228.67 80.62 229.33 80.52 230.00 80.41 C230.67 80.31 231.33 80.21 232.00 80.11 C232.67 80.01 233.33 79.91 234.00 79.81 C234.67 79.71 235.33 79.61 236.00 79.51 C236.67 79.41 237.33 79.32 238.00 79.22 C238.67 79.12 239.33 79.03 240.00 78.93 C240.67 78.84 241.33 78.75 242.00 78.65 C242.67 78.56 243.33 78.47 244.00 78.38 C244.67 78.29 245.33 78.20 246.00 78.11 C246.67 78.02 247.33 77.93 248.00 77.84 C248.67 77.75 249.33 77.67 250.00 77.58 C250.67 77.49 251.33 77.41 252.00 77.32 C252.67 77.24 253.33 77.16 254.00 77.07 C254.67 76.99 255.33 76.91 256.00 76.83 C256.67 76.75 257.33 76.67 258.00 76.59 C258.67 76.51 259.33 76.43 260.00 76.35 C260.67 76.28 261.33 76.20 262.00 76.13 C262.67 76.05 263.33 75.98 264.00 75.90 C264.67 75.83 265.33 75.75 266.00 75.68 C266.67 75.61 267.33 75.54 268.00 75.47 C268.67 75.40 269.33 75.33 270.00 75.26 C270.67 75.19 271.33 75.12 272.00 75.06 C272.67 74.99 273.33 74.92 274.00 74.86 C274.67 74.79 275.33 74.73 276.00 74.67 C276.67 74.60 277.33 74.54 278.00 74.48 C278.67 74.42 279.33 74.36 280.00 74.30 C280.67 74.24 281.33 74.18 282.00 74.12 C282.67 74.06 283.33 74.01 284.00 73.95 C284.67 73.90 285.33 73.84 286.00 73.79 C286.67 73.73 287.33 73.68 288.00 73.63 C288.67 73.57 289.33 73.52 290.00 73.47 C290.67 73.42 291.33 73.37 292.00 73.32 C292.67 73.27 293.33 73.23 294.00 73.18 C294.67 73.13 295.33 73.09 296.00 73.04 C296.67 73.00 297.33 72.95 298.00 72.91 C298.67 72.87 299.33 72.82 300.00 72.78 C300.67 72.74 301.33 72.70 302.00 72.66 C302.67 72.62 303.33 72.58 304.00 72.54 C304.67 72.51 305.33 72.47 306.00 72.43 C306.67 72.40 307.33 72.36 308.00 72.33 C308.67 72.29 309.33 72.26 310.00 72.23 C310.67 72.20 311.33 72.17 312.00 72.14 C312.67 72.11 313.33 72.08 314.00 72.05 C314.67 72.02 315.33 71.99 316.00 71.97 C316.67 71.94 317.33 71.91 318.00 71.89 C318.67 71.87 319.33 71.84 320.00 71.82 C320.67 71.80 321.33 71.77 322.00 71.75 C322.67 71.73 323.33 71.71 324.00 71.69 C324.67 71.68 325.33 71.66 326.00 71.64 C326.67 71.62 327.33 71.61 328.00 71.59 C328.67 71.58 329.33 71.56 330.00 71.55 C330.67 71.54 331.33 71.53 332.00 71.51 C332.67 71.50 333.33 71.49 334.00 71.48 C334.67 71.47 335.33 71.47 336.00 71.46 C336.67 71.45 337.33 71.45 338.00 71.44 C338.67 71.43 339.33 71.43 340.00 71.43 C340.67 71.42 341.33 71.42 342.00 71.42 C342.67 71.42 343.33 71.42 344.00 71.42 C344.67 71.42 345.33 71.42 346.00 71.42 C346.67 71.43 347.33 71.43 348.00 71.43 C348.67 71.44 349.33 71.44 350.00 71.45 C350.67 71.46 351.33 71.46 352.00 71.47 C352.67 71.48 353.33 71.49 354.00 71.50 C354.67 71.51 355.33 71.52 356.00 71.53 C356.67 71.55 357.33 71.56 358.00 71.58 C358.67 71.59 359.33 71.60 360.00 71.62 C360.67 71.64 361.33 71.66 362.00 71.67 C362.67 71.69 363.33 71.71 364.00 71.73 C364.67 71.75 365.33 71.77 366.00 71.80 C366.67 71.82 367.33 71.84 368.00 71.87 C368.67 71.89 369.33 71.92 370.00 71.94 C370.67 71.97 371.33 72.00 372.00 72.03 C372.67 72.05 373.33 72.08 374.00 72.12 C374.67 72.15 375.33 72.18 376.00 72.21 C376.67 72.24 377.33 72.28 378.00 72.31 C378.67 72.35 379.33 72.38 380.00 72.42 C380.67 72.46 381.33 72.49 382.00 72.53 C382.67 72.57 383.33 72.61 384.00 72.65 C384.67 72.70 385.33 72.74 386.00 72.78 C386.67 72.82 387.33 72.87 388.00 72.91 C388.67 72.96 389.33 73.01 390.00 73.06 C390.67 73.10 391.33 73.15 392.00 73.20 C392.67 73.25 393.33 73.30 394.00 73.36 C394.67 73.41 395.33 73.46 396.00 73.52 C396.67 73.57 397.33 73.63 398.00 73.68 C398.67 73.74 399.33 73.80 400.00 73.86 C400.67 73.92 401.33 73.98 402.00 74.04 C402.67 74.10 403.33 74.16 404.00 74.23 C404.67 74.29 405.33 74.36 406.00 74.42 C406.67 74.49 407.33 74.56 408.00 74.63 C408.67 74.69 409.33 74.76 410.00 74.84 C410.67 74.91 411.33 74.98 412.00 75.05 C412.67 75.13 413.33 75.20 414.00 75.28 C414.67 75.35 415.33 75.43 416.00 75.51 C416.67 75.59 417.33 75.67 418.00 75.75 C418.67 75.83 419.33 75.91 420.00 76.00 C420.67 76.08 421.33 76.16 422.00 76.25 C422.67 76.34 423.33 76.42 424.00 76.51 C424.67 76.60 425.33 76.69 426.00 76.78 C426.67 76.87 427.33 76.96 428.00 77.06 C428.67 77.15 429.33 77.25 430.00 77.35 C430.67 77.44 431.33 77.54 432.00 77.64 C432.67 77.74 433.33 77.84 434.00 77.95 C434.67 78.05 435.33 78.16 436.00 78.26 C436.67 78.37 437.33 78.48 438.00 78.59 C438.67 78.70 439.33 78.81 440.00 78.93 C440.67 79.04 441.33 79.16 442.00 79.28 C442.67 79.40 443.33 79.52 444.00 79.65 C444.67 79.77 445.33 79.90 446.00 80.02 C446.67 80.15 447.33 80.28 448.00 80.42 C448.67 80.55 449.33 80.69 450.00 80.82 C450.67 80.96 451.33 81.10 452.00 81.25 C452.67 81.39 453.33 81.54 454.00 81.69 C454.67 81.84 455.33 81.99 456.00 82.14 C456.67 82.30 457.33 82.46 458.00 82.62 C458.67 82.78 459.33 82.94 460.00 83.11 C460.67 83.28 461.33 83.45 462.00 83.62 C462.67 83.80 463.33 83.97 464.00 84.15 C464.67 84.33 465.33 84.52 466.00 84.70 C466.67 84.89 467.33 85.08 468.00 85.27 C468.67 85.47 469.33 85.67 470.00 85.87 C470.67 86.07 471.33 86.27 472.00 86.48 C472.67 86.69 473.33 86.90 474.00 87.12 C474.67 87.33 475.33 87.55 476.00 87.78 C476.67 88.00 477.33 88.23 478.00 88.46 C478.67 88.69 479.33 88.93 480.00 89.17 C480.67 89.41 481.33 89.65 482.00 89.90 C482.67 90.15 483.33 90.40 484.00 90.65 C484.67 90.91 485.33 91.17 486.00 91.43 C486.67 91.70 487.33 91.97 488.00 92.24 C488.67 92.51 489.33 92.79 490.00 93.07 C490.67 93.35 491.33 93.64 492.00 93.93 C492.67 94.22 493.33 94.52 494.00 94.82 C494.67 95.12 495.33 95.42 496.00 95.73 C496.67 96.04 497.33 96.35 498.00 96.67 C498.67 96.99 499.33 97.31 500.00 97.64 C500.67 97.97 501.33 98.30 502.00 98.63 C502.67 98.97 503.33 99.31 504.00 99.66 C504.67 100.01 505.33 100.36 506.00 100.71 C506.67 101.07 507.33 101.43 508.00 101.80 C508.67 102.17 509.33 102.54 510.00 102.92 C510.67 103.29 511.33 103.68 512.00 104.06 C512.67 104.45 513.33 104.84 514.00 105.24 C514.67 105.64 515.33 106.04 516.00 106.45 C516.67 106.86 517.34 107.27 518.00 107.70 C518.67 108.12 519.34 108.55 520.00 108.99 C520.67 109.44 521.34 109.89 522.00 110.35 C522.67 110.82 523.34 111.30 524.00 111.79 C524.67 112.28 525.34 112.79 526.00 113.31 C526.67 113.83 527.34 114.37 528.00 114.92 C528.67 115.48 529.34 116.06 530.00 116.65 C530.67 117.25 531.34 117.87 532.00 118.50 C532.67 119.14 533.34 119.80 534.00 120.48 C534.67 121.17 535.34 121.88 536.00 122.61 C536.67 123.35 537.40 124.19 538.00 124.90 C538.51 125.50 539.40 126.60 539.40 126.60" stroke="#008000" stroke-width="2.4"/>
</g>
<g><text x="44.23" y="483.60" font-size="20" transform="matrix(1 0 0 1.070 0 -33.852)">500</text><text x="44.23" y="416.51" font-size="20" transform="matrix(1 0 0 1.070 0 -29.156)">600</text><text x="44.23" y="349.43" font-size="20" transform="matrix(1 0 0 1.070 0 -24.460)">700</text><text x="44.23" y="282.34" font-size="20" transform="matrix(1 0 0 1.070 0 -19.764)">800</text><text x="44.23" y="215.26" font-size="20" transform="matrix(1 0 0 1.070 0 -15.068)">900</text><text x="44.23 55.35 66.48" y="148.17" font-size="20" transform="matrix(1 0 0 1.070 0 -10.372)">000</text><path d="M763 0L583 0L583 1147Q518 1085 412 1023Q306 961 222 930L222 1104Q373 1175 486 1276Q599 1377 646 1472L763 1472Z" transform="matrix(0.00977 0 0 -0.01045 33.11 148.17)"/><text x="55.35 66.48" y="81.09" font-size="20" transform="matrix(1 0 0 1.070 0 -5.676)">00</text><path d="M763 0L583 0L583 1147Q518 1085 412 1023Q306 961 222 930L222 1104Q373 1175 486 1276Q599 1377 646 1472L763 1472Z" transform="matrix(0.00977 0 0 -0.01045 33.11 81.09)"/><path d="M763 0L583 0L583 1147Q518 1085 412 1023Q306 961 222 930L222 1104Q373 1175 486 1276Q599 1377 646 1472L763 1472Z" transform="matrix(0.00977 0 0 -0.01045 44.23 81.09)"/><text x="44.23 55.35 66.48" y="14.00" font-size="20" transform="matrix(1 0 0 1.070 0 -0.980)">200</text><path d="M763 0L583 0L583 1147Q518 1085 412 1023Q306 961 222 930L222 1104Q373 1175 486 1276Q599 1377 646 1472L763 1472Z" transform="matrix(0.00977 0 0 -0.01045 33.11 14.00)"/><text x="87.44" y="509.10" font-size="20" transform="matrix(1 0 0 1.070 0 -35.637)">0</text><text x="184.39" y="509.10" font-size="20" transform="matrix(1 0 0 1.070 0 -35.637)">5</text><text x="286.90" y="509.10" font-size="20" transform="matrix(1 0 0 1.070 0 -35.637)">0</text><path d="M763 0L583 0L583 1147Q518 1085 412 1023Q306 961 222 930L222 1104Q373 1175 486 1276Q599 1377 646 1472L763 1472Z" transform="matrix(0.00977 0 0 -0.01045 275.78 509.10)"/><text x="383.85" y="509.10" font-size="20" transform="matrix(1 0 0 1.070 0 -35.637)">5</text><path d="M763 0L583 0L583 1147Q518 1085 412 1023Q306 961 222 930L222 1104Q373 1175 486 1276Q599 1377 646 1472L763 1472Z" transform="matrix(0.00977 0 0 -0.01045 372.73 509.10)"/><text x="469.68" y="509.10" font-size="20" transform="matrix(1 0 0 1.070 0 -35.637)">20</text><text x="566.63" y="509.10" font-size="20" transform="matrix(1 0 0 1.070 0 -35.637)">25</text><text x="663.58" y="509.10" font-size="20" transform="matrix(1 0 0 1.070 0 -35.637)">30</text></g>
<text x="263.50" y="540.00" font-size="24.4" transform="matrix(1 0 0 1.040 0 -21.600)">Engineering strain (%)</text>
<g transform="translate(17.9 366.7) rotate(-90)"><text x="0.00" y="0.00" font-size="24.4" transform="matrix(1 0 0 1.040 0 -0.000)">Engineering stress (MPa)</text></g>
<g><text x="150.04" y="378.00" font-size="18" transform="matrix(1 0 0 1.040 0 -15.120)">&#963;</text><text x="161.40" y="382.20" font-size="12" transform="matrix(1 0 0 1.040 0 -15.288)">UTS</text><text x="195.52" y="377.40" font-size="18" transform="matrix(1 0 0 1.040 0 -15.096)">=</text><text x="230.04 240.05" y="377.40" font-size="18" transform="matrix(1 0 0 1.040 0 -15.096)">05</text><path d="M763 0L583 0L583 1147Q518 1085 412 1023Q306 961 222 930L222 1104Q373 1175 486 1276Q599 1377 646 1472L763 1472Z" transform="matrix(0.00879 0 0 -0.00914 211.35 377.40)"/><path d="M763 0L583 0L583 1147Q518 1085 412 1023Q306 961 222 930L222 1104Q373 1175 486 1276Q599 1377 646 1472L763 1472Z" transform="matrix(0.00879 0 0 -0.00914 220.02 377.40)"/><rect x="256.80" y="371.25" width="8.8" height="1.2"/><rect x="260.70" y="367.70" width="1.2" height="8.0"/><rect x="256.80" y="376.90" width="8.8" height="1.2"/><text x="271.80" y="377.40" font-size="18" transform="matrix(1 0 0 1.040 0 -15.096)">4</text><text x="287.60" y="377.40" font-size="18" transform="matrix(1 0 0 1.040 0 -15.096)">MPa</text><text x="355.30" y="377.40" font-size="18" transform="matrix(1 0 0 1.040 0 -15.096)">&#949;</text><text x="363.20" y="382.40" font-size="12" transform="matrix(1 0 0 1.040 0 -15.296)">f</text><text x="371.80" y="377.40" font-size="18" transform="matrix(1 0 0 1.040 0 -15.096)">=</text><text x="387.30" y="377.40" font-size="18" transform="matrix(1 0 0 1.040 0 -15.096)">23.7</text><rect x="429.47" y="371.25" width="8.8" height="1.2"/><rect x="433.37" y="367.70" width="1.2" height="8.0"/><rect x="429.47" y="376.90" width="8.8" height="1.2"/><text x="444.90" y="377.40" font-size="18" transform="matrix(1 0 0 1.040 0 -15.096)">0.6%</text><text x="150.04" y="423.30" font-size="18" transform="matrix(1 0 0 1.040 0 -16.932)">&#963;</text><text x="161.40" y="428.00" font-size="12" transform="matrix(1 0 0 1.040 0 -17.120)">0.2</text><text x="188.50" y="422.90" font-size="18" transform="matrix(1 0 0 1.040 0 -16.916)">=</text><text x="214.16 224.17 234.18" y="422.90" font-size="18" transform="matrix(1 0 0 1.040 0 -16.916)">075</text><path d="M763 0L583 0L583 1147Q518 1085 412 1023Q306 961 222 930L222 1104Q373 1175 486 1276Q599 1377 646 1472L763 1472Z" transform="matrix(0.00879 0 0 -0.00914 204.15 422.90)"/><rect x="251.07" y="416.75" width="8.8" height="1.2"/><rect x="254.97" y="413.20" width="1.2" height="8.0"/><rect x="251.07" y="422.40" width="8.8" height="1.2"/><text x="266.50" y="422.90" font-size="18" transform="matrix(1 0 0 1.040 0 -16.916)">4</text><text x="281.70" y="422.90" font-size="18" transform="matrix(1 0 0 1.040 0 -16.916)">MPa</text><text x="349.80" y="422.90" font-size="18" transform="matrix(1 0 0 1.040 0 -16.916)">&#949;</text><text x="356.97" y="427.30" font-size="12" transform="matrix(1 0 0 1.040 0 -17.092)">UEL</text><text x="385.80" y="422.90" font-size="18" transform="matrix(1 0 0 1.040 0 -16.916)">=</text><text x="411.26 421.27 426.27" y="422.90" font-size="18" transform="matrix(1 0 0 1.040 0 -16.916)">3.2</text><path d="M763 0L583 0L583 1147Q518 1085 412 1023Q306 961 222 930L222 1104Q373 1175 486 1276Q599 1377 646 1472L763 1472Z" transform="matrix(0.00879 0 0 -0.00914 401.25 422.90)"/><rect x="443.07" y="416.75" width="8.8" height="1.2"/><rect x="446.97" y="413.20" width="1.2" height="8.0"/><rect x="443.07" y="422.40" width="8.8" height="1.2"/><text x="459.20" y="422.90" font-size="18" transform="matrix(1 0 0 1.040 0 -16.916)">0.2%</text></g>
</svg>
</body></html>
